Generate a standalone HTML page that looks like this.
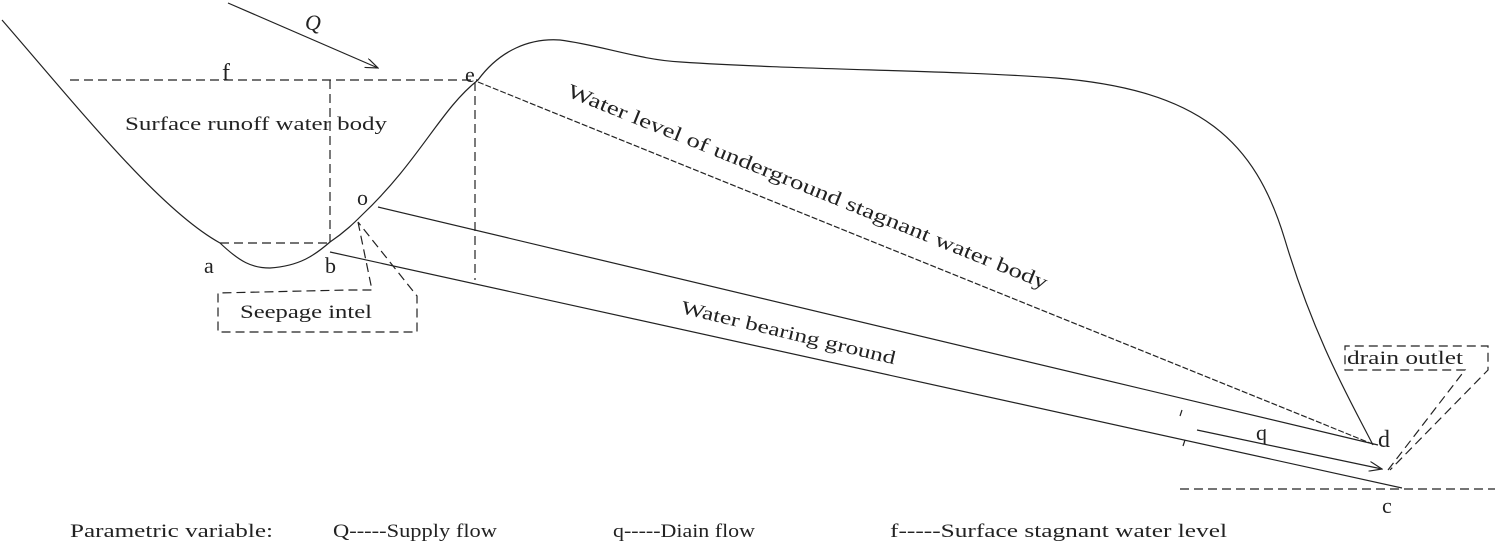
<!DOCTYPE html>
<html><head><meta charset="utf-8"><style>
html,body{margin:0;padding:0;background:#fff;}
svg{display:block;}
text{font-family:"Liberation Serif",serif;fill:#222;}
</style></head><body>
<svg width="1499" height="548" viewBox="0 0 1499 548" xmlns="http://www.w3.org/2000/svg">
<defs>
<marker id="ah" markerWidth="14" markerHeight="10" refX="13" refY="5" orient="auto" markerUnits="userSpaceOnUse">
<path d="M0,0 L13,5 L0,10" fill="none" stroke="#222" stroke-width="1.2"/>
</marker>
</defs>
<g fill="none" stroke="#222" stroke-width="1.2">
<path d="M2,20 C80,110 160,210 220,243 C240,262 252,268 270,268 C300,266 315,255 330,242 C345,232 355,222 362,215 C420,160 440,110 478,80 C500,50 530,38 560,40 C600,45 640,60 681,62 C800,70 950,70 1056,78 C1200,90 1255,140 1285,240 C1315,340 1350,400 1373,445"/>
<line x1="378" y1="207" x2="1378" y2="445"/>
<line x1="330" y1="252" x2="1402" y2="488"/>
<line x1="228" y1="3" x2="378" y2="68" marker-end="url(#ah)"/>
<line x1="1197" y1="430" x2="1382" y2="469" marker-end="url(#ah)"/>
<path d="M1182,410 l-2,6 M1185,440 l-2,6"/>
</g>
<g fill="none" stroke="#222" stroke-width="1.2" stroke-dasharray="9,5">
<line x1="70" y1="80" x2="478" y2="80"/>
<line x1="330" y1="80" x2="330" y2="242"/>
<line x1="475" y1="82" x2="475" y2="280"/>
<line x1="220" y1="243" x2="330" y2="243"/>
<line x1="478" y1="82" x2="1375" y2="445" stroke-dasharray="6,2"/>
<path d="M358,222 L372,290 L348,290 L218,293 L218,332 L417,332 L417,296 L358,222"/>
<line x1="1180" y1="489" x2="1495" y2="489"/>
<path d="M1388,470 L1465,370 L1345,370 L1345,346 L1488,346 L1488,370 L1390,470"/>
</g>
<g font-size="19">
<text x="125" y="130" textLength="262" lengthAdjust="spacingAndGlyphs">Surface runoff water body</text>
<text x="240" y="318" textLength="132" lengthAdjust="spacingAndGlyphs">Seepage intel</text>
<text x="1347" y="364" textLength="116" lengthAdjust="spacingAndGlyphs">drain outlet</text>
<text x="222" y="80" font-size="24">f</text>
<text x="305" y="30" font-size="22" font-style="italic">Q</text>
<text x="465" y="82" font-size="22">e</text>
<text x="357" y="205" font-size="22">o</text>
<text x="204" y="273" font-size="22">a</text>
<text x="325" y="273" font-size="22">b</text>
<text x="1378" y="447" font-size="24">d</text>
<text x="1382" y="513" font-size="22">c</text>
<text x="1256" y="440" font-size="22">q</text>
<text transform="translate(566,96) rotate(22)" font-size="20" textLength="516" lengthAdjust="spacingAndGlyphs">Water level of underground stagnant water body</text>
<text transform="translate(680,313) rotate(13.5)" font-size="19" textLength="220" lengthAdjust="spacingAndGlyphs">Water bearing ground</text>
<text x="70" y="537" textLength="203" lengthAdjust="spacingAndGlyphs">Parametric variable:</text>
<text x="333" y="537" textLength="164" lengthAdjust="spacingAndGlyphs">Q-----Supply flow</text>
<text x="613" y="537" textLength="142" lengthAdjust="spacingAndGlyphs">q-----Diain flow</text>
<text x="890" y="537" textLength="337" lengthAdjust="spacingAndGlyphs">f-----Surface stagnant water level</text>
</g>
</svg>
</body></html>
